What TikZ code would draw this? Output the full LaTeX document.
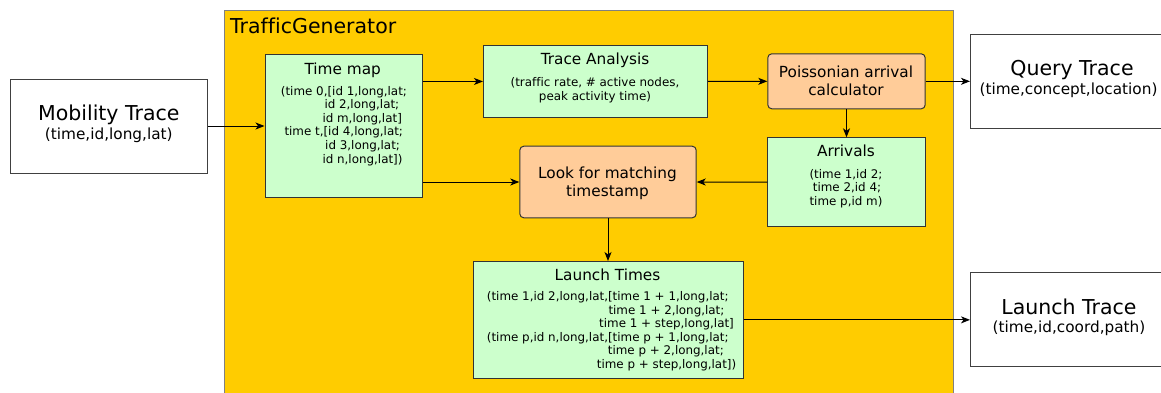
\documentclass[tikz,border=0pt]{standalone}
\usepackage{fontspec}
\setmainfont[Ligatures=NoCommon]{DejaVu Sans}
\usetikzlibrary{arrows.meta,calc}
\definecolor{tgyellow}{HTML}{FFCC00}
\definecolor{boxgreen}{HTML}{CCFFCC}
\definecolor{boxorange}{HTML}{FFCC99}
\definecolor{edgegray}{HTML}{333333}
\newcommand\fbig{\fontsize{20.5}{24}\selectfont}
\newcommand\fmid{\fontsize{15.3}{18}\selectfont}
\newcommand\fsmall{\fontsize{11.9}{13.6}\selectfont}
\tikzset{
  x=1pt,y=-1pt,
  box/.style={rectangle,draw=edgegray,line width=1pt,inner sep=0pt,anchor=north west},
  greenbox/.style={box,fill=boxgreen},
  orangebox/.style={box,fill=boxorange,rounded corners=4pt},
  whitebox/.style={box,fill=white,draw=black!75},
  bigtxt/.style={inner sep=0pt,anchor=base,font=\fbig},
  midtxt/.style={inner sep=0pt,anchor=base,font=\fmid},
  smalltxt/.style={inner sep=0pt,anchor=base,font=\fsmall},
  smallw/.style={inner sep=0pt,anchor=base west,font=\fsmall},
  arr/.style={draw=black,line width=1pt,-{Stealth[length=9pt,width=7pt,inset=2.5pt]}},
}
\begin{document}
\begin{tikzpicture}
\useasboundingbox (0,0) rectangle (1161,392);
% outer container
\node[box,fill=tgyellow,draw=black!50,minimum width=729,minimum height=390] (tg) at (224,10) {};
\node[inner sep=0pt,anchor=base west,font=\fbig] (tgl) at (230,33) {TrafficGenerator};

% external boxes
\node[whitebox,minimum width=197,minimum height=94] (mt) at (10,78.5) {};
\node[bigtxt] (mt1) at (108.8,120) {Mobility Trace};
\node[midtxt] (mt2) at (108.8,139.3) {(time,id,long,lat)};

\node[whitebox,minimum width=200,minimum height=93.5] (qt) at (970,34) {};
\node[bigtxt] (qt1) at (1072,75) {Query Trace};
\node[midtxt] (qt2) at (1068.5,94) {(time,concept,location)};

\node[whitebox,minimum width=200,minimum height=94] (ltr) at (970,272.3) {};
\node[bigtxt] (ltr1) at (1069,314) {Launch Trace};
\node[midtxt] (ltr2) at (1069,332.7) {(time,id,coord,path)};

% Time map
\node[greenbox,minimum width=157,minimum height=143] (tm) at (264.5,54) {};
\node[midtxt] (tmt) at (342.7,74) {Time map};
\foreach \px/\py/\tx [count=\k] in {
  280.7/95/{(time 0,[id 1,long,lat;},
  324.3/108.6/{id 2,long,lat;},
  322.3/122.2/{id m,long,lat]},
  284.3/135.8/{time t,[id 4,long,lat;},
  325/149.4/{id 3,long,lat;},
  322.3/163/{id n,long,lat])}}
  \node[smallw] (tmb\k) at (\px,\py) {\tx};

% Trace Analysis
\node[greenbox,minimum width=224,minimum height=72.5] (ta) at (483,44.7) {};
\node[midtxt] (tat) at (595,64.3) {Trace Analysis};
\node[smalltxt] (tab1) at (595,86.5) {(traffic rate, \# active nodes,};
\node[smalltxt] (tab2) at (595,100.5) {peak activity time)};

% Poissonian
\node[orangebox,minimum width=157.4,minimum height=55] (pc) at (767.3,53.3) {};
\node[midtxt] (pct1) at (846,77.3) {Poissonian arrival};
\node[midtxt] (pct2) at (846,95) {calculator};

% Arrivals
\node[greenbox,minimum width=157.4,minimum height=88.7] (ar) at (767.3,137.3) {};
\node[midtxt] (art) at (846,156.7) {Arrivals};
\node[smalltxt] (arb1) at (846,178) {(time 1,id 2;};
\node[smalltxt] (arb2) at (847,191.5) {time 2,id 4;};
\node[smalltxt] (arb3) at (846,205) {time p,id m)};

% Look for matching timestamp
\node[orangebox,minimum width=176.4,minimum height=71.6] (lk) at (519.3,145.7) {};
\node[midtxt] (lkt1) at (607.5,178.3) {Look for matching};
\node[midtxt] (lkt2) at (607.5,196.7) {timestamp};

% Launch Times
\node[greenbox,minimum width=270,minimum height=116.7] (lt) at (472.7,261) {};
\node[midtxt] (ltt) at (607.5,280) {Launch Times};
\foreach \px/\py/\tx [count=\k] in {
  486.7/300.5/{(time 1,id 2,long,lat,[time 1 + 1,long,lat;},
  608.3/314/{time 1 + 2,long,lat;},
  599/327.5/{time 1 + step,long,lat]},
  486.7/341/{(time p,id n,long,lat,[time p + 1,long,lat;},
  607.7/354.5/{time p + 2,long,lat;},
  596.7/368/{time p + step,long,lat])}}
  \node[smallw] (ltb\k) at (\px,\py) {\tx};

% connectors
\draw[arr] (mt.east) -- (tm.west);
\draw[arr] (tm.east |- ta.west) -- (ta.west);
\draw[arr] (ta.east) -- (pc.west);
\draw[arr] (pc.east) -- (qt.west |- pc.east);
\draw[arr] (pc.south) -- (ar.north);
\draw[arr] (ar.west) -- (lk.east);
\draw[arr] (tm.east |- lk.west) -- (lk.west);
\draw[arr] (lk.south) -- (lk.south |- lt.north);
\draw[arr] (lt.east) -- (ltr.west |- lt.east);
\end{tikzpicture}
\end{document}
